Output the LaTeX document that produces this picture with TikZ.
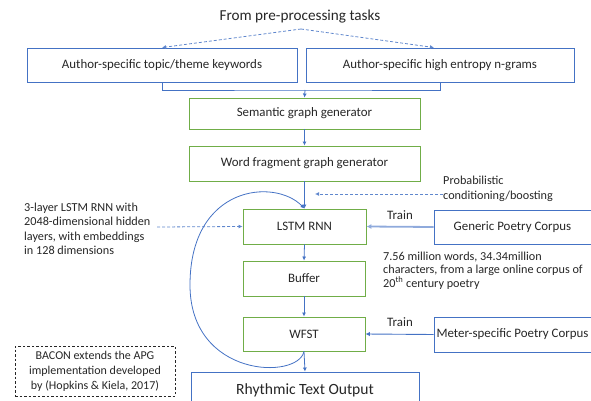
\documentclass[tikz,border=0pt]{standalone}
\usepackage{fontspec}
\setmainfont{Carlito}
\usetikzlibrary{arrows.meta,calc}
\definecolor{bblue}{HTML}{4472C4}
\definecolor{lblue}{HTML}{8FAADC}
\definecolor{ggreen}{HTML}{70AD47}
\definecolor{txt}{HTML}{262626}
\begin{document}
\begin{tikzpicture}[x=1pt,y=-1pt,
  font=\fontsize{12.9}{15}\selectfont, text=txt,
  bluebox/.style={draw=bblue, line width=0.9pt, inner sep=0pt},
  greenbox/.style={draw=ggreen, line width=0.9pt, inner sep=0pt},
  note/.style={inner sep=0pt, align=left, font=\fontsize{12.2}{14.5}\selectfont},
  arr/.style={draw=bblue, line width=0.8pt, -{Latex[length=4pt,width=4pt]}},
  darr/.style={draw=bblue!85, line width=0.8pt, dash pattern=on 3pt off 2pt, -{Latex[length=4pt,width=4pt]}},
  trainA/.style={draw=lblue, line width=1.8pt, -{Latex[length=5pt,width=5pt]}},
  trainB/.style={draw=bblue, line width=0.9pt, -{Latex[length=4.5pt,width=4.5pt]}}]
\useasboundingbox (0,0) rectangle (591,401);
\clip (0,0) rectangle (591,401);

% title
\node[inner sep=0pt, font=\fontsize{15.2}{17}\selectfont] (title) at (300,17) {From pre-processing tasks};
\coordinate (apex) at (301,29);

% top boxes
\node[bluebox, minimum width=270, minimum height=34] (kw) at (162,65) {Author-specific topic/theme keywords};
\node[bluebox, minimum width=268, minimum height=34] (ng) at (440,65) {Author-specific high entropy n-grams};
\coordinate (j) at (305,90);

% main column
\node[greenbox, minimum width=231, minimum height=31] (sem) at (304.5,113.5) {Semantic graph generator};
\node[greenbox, minimum width=231, minimum height=35] (wf) at (304.5,163.5) {Word fragment graph generator};
\node[greenbox, minimum width=123, minimum height=35] (lstm) at (304.5,226.5) {LSTM RNN};
\node[greenbox, minimum width=122, minimum height=35] (buf) at (304,278.5) {Buffer};
\node[greenbox, minimum width=122, minimum height=34] (wfst) at (304,334) {WFST};
\node[bluebox, minimum width=228, minimum height=36, font=\fontsize{15.6}{17}\selectfont] (out) at (305,390) {Rhythmic Text Output};

% right boxes
\node[bluebox, minimum width=157, minimum height=34] (gen) at (512.5,227) {Generic Poetry Corpus};
\node[bluebox, minimum width=157, minimum height=35] (met) at (512.5,334.5) {Meter-specific Poetry Corpus};

% notes
\node[note, anchor=west] (ann) at (24,229) {3-layer LSTM RNN with\\2048-dimensional hidden\\layers, with embeddings\\in 128 dimensions};
\coordinate (annend) at (157,227);
\node[note, anchor=west] (prob) at (443,189) {Probabilistic\\conditioning/boosting};
\coordinate (pe) at (315,194);
\node[note, anchor=west, font=\fontsize{12.2}{13.5}\selectfont] (desc) at (383,270.5) {7.56 million words, 34.34million\\characters, from a large online corpus of\\20\textsuperscript{th} century poetry};
\node[draw=txt, line width=0.8pt, dash pattern=on 2.5pt off 2pt, minimum width=160, minimum height=50, inner sep=0pt, align=center, font=\fontsize{12}{15}\selectfont] (bacon) at (95,371) {BACON extends the APG\\implementation developed\\by (Hopkins \& Kiela, 2017)};

% train labels
\node[inner sep=0pt] (tr1) at (400,215) {Train};
\node[inner sep=0pt] (tr2) at (400,322) {Train};

% connectors
\draw[darr] (apex) -- (kw.north);
\draw[darr] (apex) -- ($(ng.north)+(-6,0)$);
\draw[draw=bblue, line width=0.8pt] (kw.south) |- (j) -| (ng.south);
\draw[arr] (j) -- (sem.north);
\draw[arr] (sem.south) -- (wf.north);
\draw[arr] (wf.south) -- (lstm.north);
\draw[arr] (lstm.south) -- (buf.north);
\draw[arr] (buf.south) -- (wfst.north);
\draw[arr] (wfst.south) -- (out.north);
\draw[darr] (annend) -- (lstm.west);
\draw[darr] (prob.west |- pe) -- (pe);
\draw[trainA] (gen.west) -- (lstm.east);
\draw[trainB] (met.west) -- (wfst.east);
\coordinate (lp) at (190,285);
\draw[draw=bblue, line width=0.8pt, -{Latex[length=4pt,width=4pt]}]
  (wfst.south) .. controls (298,380) and (190,378) .. (lp)
  .. controls (190,185) and (275,178) .. (lstm.north);
\end{tikzpicture}
\end{document}
